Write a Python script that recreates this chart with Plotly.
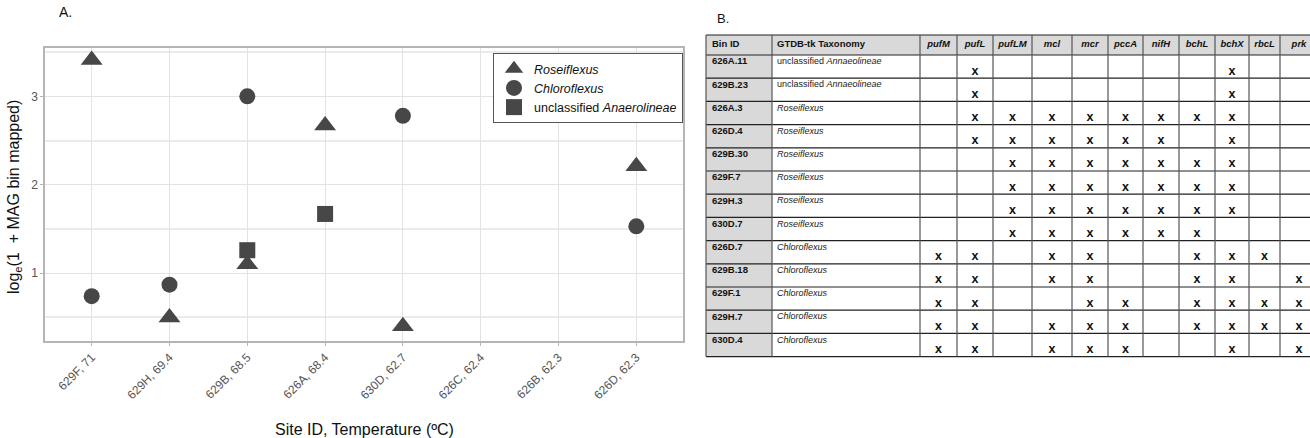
import numpy as np
import plotly.graph_objects as go

# ---------------- Panel A data ----------------
sites = ["629F, 71", "629H, 69.4", "629B, 68.5", "626A, 68.4",
         "630D, 62.7", "626C, 62.4", "626B, 62.3", "626D, 62.3"]

rose_sites = ["629F, 71", "629H, 69.4", "629B, 68.5", "626A, 68.4", "630D, 62.7", "626D, 62.3"]
rose_vals = [3.41, 0.50, 1.10, 2.67, 0.40, 2.21]

chloro_sites = ["629F, 71", "629H, 69.4", "629B, 68.5", "630D, 62.7", "626D, 62.3"]
chloro_vals = [0.74, 0.87, 3.00, 2.78, 1.53]

anaero_sites = ["629B, 68.5", "626A, 68.4"]
anaero_vals = [1.26, 1.67]

# ---------------- Panel B data ----------------
bin_ids = ["626A.11", "629B.23", "626A.3", "626D.4", "629B.30", "629F.7", "629H.3",
           "630D.7", "626D.7", "629B.18", "629F.1", "629H.7", "630D.4"]
taxonomy = ["unclassified <i>Annaeolineae</i>", "unclassified <i>Annaeolineae</i>",
            "<i>Roseiflexus</i>", "<i>Roseiflexus</i>", "<i>Roseiflexus</i>", "<i>Roseiflexus</i>",
            "<i>Roseiflexus</i>", "<i>Roseiflexus</i>", "<i>Chloroflexus</i>", "<i>Chloroflexus</i>",
            "<i>Chloroflexus</i>", "<i>Chloroflexus</i>", "<i>Chloroflexus</i>"]
header_labels = ["Bin ID", "GTDB-tk Taxonomy"]
genes = ["pufM", "pufL", "pufLM", "mcl", "mcr", "pccA", "nifH", "bchL", "bchX", "rbcL", "prk"]
presence = [
    [0, 1, 0, 0, 0, 0, 0, 0, 1, 0, 0],  # 626A.11
    [0, 1, 0, 0, 0, 0, 0, 0, 1, 0, 0],  # 629B.23
    [0, 1, 1, 1, 1, 1, 1, 1, 1, 0, 0],  # 626A.3
    [0, 1, 1, 1, 1, 1, 1, 0, 1, 0, 0],  # 626D.4
    [0, 0, 1, 1, 1, 1, 1, 1, 1, 0, 0],  # 629B.30
    [0, 0, 1, 1, 1, 1, 1, 1, 1, 0, 0],  # 629F.7
    [0, 0, 1, 1, 1, 1, 1, 1, 1, 0, 0],  # 629H.3
    [0, 0, 1, 1, 1, 1, 1, 1, 0, 0, 0],  # 630D.7
    [1, 1, 0, 1, 1, 0, 0, 1, 1, 1, 0],  # 626D.7
    [1, 1, 0, 1, 1, 0, 0, 1, 1, 0, 1],  # 629B.18
    [1, 1, 0, 0, 1, 1, 0, 1, 1, 1, 1],  # 629F.1
    [1, 1, 0, 1, 1, 1, 0, 1, 1, 1, 1],  # 629H.7
    [1, 1, 0, 1, 1, 1, 0, 0, 1, 0, 1],  # 630D.4
]

W, H = 1310, 438
FONT = "Liberation Sans, Arial, Helvetica, sans-serif"
MARK = "#474747"

fig = go.Figure()

# ---------------- Panel A ----------------
fig.add_trace(go.Scatter(x=rose_sites, y=rose_vals, mode="markers", name="<i>Roseiflexus</i>",
                         marker=dict(symbol="triangle-up", size=19, color=MARK)))
fig.add_trace(go.Scatter(x=chloro_sites, y=chloro_vals, mode="markers", name="<i>Chloroflexus</i>",
                         marker=dict(symbol="circle", size=16, color=MARK)))
fig.add_trace(go.Scatter(x=anaero_sites, y=anaero_vals, mode="markers",
                         name="unclassified <i>Anaerolineae</i>",
                         marker=dict(symbol="square", size=16, color=MARK)))

# ---------------- Panel B : table drawn on its own axes (1 unit = 1 px) ----------------
col_w = [66, 148, 37, 36, 39, 40, 36, 35, 36, 36, 34, 31, 38]   # layout widths
hdr_h, row_h = 20.0, 23.2                                         # layout heights
edges = np.concatenate([[0.0], np.cumsum(col_w)])
centers = (edges[:-1] + edges[1:]) / 2
n_rows = len(bin_ids)
row_tops = hdr_h + row_h * np.arange(n_rows)
tbl_bottom = hdr_h + row_h * n_rows

TX0, TTOP = 706, 35          # table origin in pixels
PX0, PY0, PY1 = 705, 32, 362  # table subplot box in pixels
shapes = []
shapes.append(dict(type="rect", xref="x2", yref="y2", x0=edges[0], x1=edges[-1], y0=0, y1=hdr_h,
                   fillcolor="#d9d9d9", line=dict(width=0), layer="below"))
shapes.append(dict(type="rect", xref="x2", yref="y2", x0=edges[0], x1=edges[1], y0=hdr_h, y1=tbl_bottom,
                   fillcolor="#d9d9d9", line=dict(width=0), layer="below"))
for yv in [0.0, hdr_h] + list(row_tops[1:]) + [tbl_bottom]:
    shapes.append(dict(type="line", xref="x2", yref="y2", x0=edges[0], x1=edges[-1], y0=yv, y1=yv,
                       line=dict(color="#222", width=1.2)))
for xv in edges:
    shapes.append(dict(type="line", xref="x2", yref="y2", x0=xv, x1=xv, y0=0, y1=tbl_bottom,
                       line=dict(color="#555", width=1.2)))

fig.add_trace(go.Scatter(x=[edges[0] + 6, edges[1] + 5], y=[hdr_h / 2] * 2, xaxis="x2", yaxis="y2",
                         mode="text", text=["<b>%s</b>" % t for t in header_labels],
                         textposition="middle right", showlegend=False, hoverinfo="skip",
                         textfont=dict(family=FONT, size=9.5, color="#111")))
fig.add_trace(go.Scatter(x=centers[2:], y=[hdr_h / 2] * len(genes), xaxis="x2", yaxis="y2",
                         mode="text", text=["<b><i>%s</i></b>" % g for g in genes],
                         textposition="middle center", showlegend=False, hoverinfo="skip",
                         textfont=dict(family=FONT, size=9.5, color="#111")))
fig.add_trace(go.Scatter(x=[edges[0] + 6] * n_rows, y=row_tops + 7, xaxis="x2", yaxis="y2",
                         mode="text", text=["<b>%s</b>" % b for b in bin_ids],
                         textposition="middle right", showlegend=False, hoverinfo="skip",
                         textfont=dict(family=FONT, size=9.5, color="#111")))
fig.add_trace(go.Scatter(x=[edges[1] + 5] * n_rows, y=row_tops + 7, xaxis="x2", yaxis="y2",
                         mode="text", text=taxonomy,
                         textposition="middle right", showlegend=False, hoverinfo="skip",
                         textfont=dict(family=FONT, size=9, color="#222")))
mx, my = [], []
for i, row in enumerate(presence):
    for j, v in enumerate(row):
        if v:
            mx.append(centers[2 + j])
            my.append(row_tops[i] + 16.5)
fig.add_trace(go.Scatter(x=mx, y=my, xaxis="x2", yaxis="y2", mode="text",
                         text=["<b>x</b>"] * len(mx), textposition="middle center",
                         showlegend=False, hoverinfo="skip",
                         textfont=dict(family=FONT, size=12.5, color="#111")))

fig.update_layout(
    width=W, height=H,
    margin=dict(l=0, r=0, t=0, b=0),
    paper_bgcolor="white", plot_bgcolor="white",
    font=dict(family=FONT, color="#222"),
    showlegend=True,
    shapes=shapes,
    legend=dict(x=683 / W, y=(H - 53) / H, xanchor="right", yanchor="top",
                bgcolor="white", bordercolor="#555", borderwidth=1,
                font=dict(family=FONT, size=12.5, color="#111"),
                tracegroupgap=0, itemwidth=30, itemsizing="trace"),
    xaxis=dict(domain=[45 / W, 683 / W], type="category",
               categoryorder="array", categoryarray=sites,
               range=[-0.6, 7.6], tickangle=-45,
               showgrid=True, gridcolor="#e3e3e3", gridwidth=1,
               showline=True, mirror=True, linecolor="#b5b5b5", linewidth=1.5,
               ticks="outside", ticklen=3, tickcolor="#b5b5b5",
               tickfont=dict(family=FONT, size=12, color="#555"),
               zeroline=False, automargin=False),
    yaxis=dict(domain=[(H - 341) / H, (H - 48) / H],
               range=[0.233, 3.547], tickmode="array", tickvals=[1, 2, 3],
               showgrid=True, gridcolor="#e3e3e3", gridwidth=1,
               minor=dict(tickmode="array", tickvals=[0.5, 1.5, 2.5, 3.5],
                          showgrid=True, gridcolor="#ebebeb", gridwidth=2),
               showline=True, mirror=True, linecolor="#b5b5b5", linewidth=1.5,
               ticks="outside", ticklen=3, tickcolor="#b5b5b5",
               tickfont=dict(family=FONT, size=12, color="#555"),
               zeroline=False, automargin=False),
    xaxis2=dict(domain=[PX0 / W, 1.0], range=[PX0 - TX0, W - TX0], visible=False,
                fixedrange=True, anchor="y2"),
    yaxis2=dict(domain=[(H - PY1) / H, (H - PY0) / H], range=[PY1 - TTOP, PY0 - TTOP], visible=False,
                fixedrange=True, anchor="x2"),
    annotations=[
        dict(text="A.", x=65 / W, y=(H - 12) / H, xref="paper", yref="paper",
             showarrow=False, xanchor="center", yanchor="middle",
             font=dict(family=FONT, size=14, color="#111")),
        dict(text="B.", x=723 / W, y=(H - 18) / H, xref="paper", yref="paper",
             showarrow=False, xanchor="center", yanchor="middle",
             font=dict(family=FONT, size=13, color="#111")),
        dict(text="Site ID, Temperature (ºC)", x=364 / W, y=(H - 429) / H,
             xref="paper", yref="paper", showarrow=False, xanchor="center", yanchor="middle",
             font=dict(family=FONT, size=16, color="#111")),
        dict(text="log<sub>e</sub>(1  + MAG bin mapped)", x=15 / W, y=(H - 197) / H,
             xref="paper", yref="paper", showarrow=False, textangle=-90,
             xanchor="center", yanchor="middle",
             font=dict(family=FONT, size=16, color="#111")),
    ],
)

fig.write_html("out.html")
